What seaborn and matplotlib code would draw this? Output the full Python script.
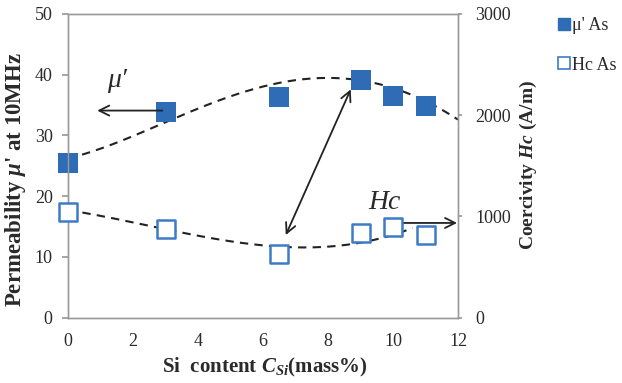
import numpy as np
import pandas as pd
import matplotlib
matplotlib.use("Agg")
import matplotlib.pyplot as plt
import seaborn as sns
from matplotlib.lines import Line2D

# ---- data ----
si_content = [0, 3, 6.5, 9, 10, 11]
mu_values = [25.5, 33.8, 36.3, 39.1, 36.5, 34.9]
hc_values = [1047, 876, 629, 834, 899, 817]

# dashed trend curves
mu_trend_x = [0, 3, 6.3, 8.15, 10, 11, 12]
mu_trend_y = [26.2, 32.3, 38.0, 40.0, 37.8, 35.3, 32.8]
hc_trend_x = [0, 3, 4.9, 6.7, 8.15, 9.2, 10.6]
hc_trend_y = [1062, 873, 768, 684, 708, 762, 882]

x_ticks = [0, 2, 4, 6, 8, 10, 12]
left_ticks = [0, 10, 20, 30, 40, 50]
right_ticks = [0, 1000, 2000, 3000]

sns.set_theme(style="white")
plt.rcParams['font.family'] = ['Liberation Serif', 'DejaVu Serif']
plt.rcParams['mathtext.fontset'] = 'custom'
plt.rcParams['mathtext.rm'] = 'Liberation Serif'
plt.rcParams['mathtext.it'] = 'Liberation Serif:italic'
plt.rcParams['mathtext.bf'] = 'Liberation Serif:bold'
plt.rcParams['mathtext.bfit'] = 'Liberation Serif:italic:bold'

BLUE = '#2E6DB6'
EDGE = '#3D7BC6'
GRAY = '#9A9A9A'
TXT = '#2A2A2A'

df = pd.DataFrame({'x': si_content, 'mu': mu_values, 'hc': hc_values})

# smooth (polynomial trendline) through the read trend points
mu_coef = np.polyfit(mu_trend_x, mu_trend_y, 4)
hc_coef = np.polyfit(hc_trend_x, hc_trend_y, 3)
xs_mu = np.linspace(mu_trend_x[0], mu_trend_x[-1], 200)
xs_hc = np.linspace(hc_trend_x[0], hc_trend_x[-1], 200)
trend_mu = pd.DataFrame({'x': xs_mu, 'y': np.polyval(mu_coef, xs_mu)})
trend_hc = pd.DataFrame({'x': xs_hc, 'y': np.polyval(hc_coef, xs_hc)})

fig = plt.figure(figsize=(6.22, 3.83), dpi=100)
ax = fig.add_axes([68/622, 1-317.7/383, (458-68)/622, (317.7-14)/383])
ax2 = ax.twinx()

sns.lineplot(data=trend_mu, x='x', y='y', ax=ax, color='#222222', lw=1.5,
             linestyle=(0, (4, 3)), zorder=2)
sns.scatterplot(data=df, x='x', y='mu', ax=ax, marker='s', s=200,
                color=BLUE, edgecolor=BLUE, linewidth=0, zorder=3, clip_on=False)

sns.lineplot(data=trend_hc, x='x', y='y', ax=ax2, color='#222222', lw=1.5,
             linestyle=(0, (4, 3)), zorder=2)
sns.scatterplot(data=df, x='x', y='hc', ax=ax2, marker='s', s=170,
                facecolor='white', edgecolor=EDGE, linewidth=1.8, zorder=3,
                clip_on=False)

ax.set_xlim(0, 12)
ax.set_ylim(0, 50)
ax2.set_ylim(0, 3000)
ax.set_xticks(x_ticks)
ax.set_yticks(left_ticks)
ax2.set_yticks(right_ticks)

for a in (ax, ax2):
    for s in a.spines.values():
        s.set_color(GRAY)
        s.set_linewidth(1.0)
ax.tick_params(axis='x', direction='in', length=4, color=GRAY, pad=11,
               labelsize=13, labelcolor=TXT)
ax.tick_params(axis='y', direction='out', length=4, color=GRAY, pad=7,
               labelsize=13, labelcolor=TXT, left=True)
ax2.tick_params(axis='y', direction='out', length=3, color=GRAY, pad=9.5,
                labelsize=13, labelcolor=TXT, right=True)

ax.set_xlabel(r"Si  content $\mathbfit{C}_{\mathbfit{Si}}$(mass%)",
              fontsize=15, fontweight='bold', color=TXT)
ax.xaxis.set_label_coords((265 - 68) / 390, -(356 - 317.7) / 303.7)
ax.set_ylabel(r"Permeability $\mathbfit{\mu}$' at 10MHz",
              fontsize=16.5, fontweight='bold', color=TXT)
ax.yaxis.set_label_coords(-(68 - 28) / 390, 1 - (180 - 14) / 303.7)
ax2.set_ylabel(r"Coercivity $\mathbfit{Hc}$ (A/m)",
               fontsize=14, fontweight='bold', color=TXT)
ax2.yaxis.set_label_coords(1 + (518 - 458) / 390, 1 - (165 - 14) / 303.7)

# annotations
arrow_kw = dict(color='#222222', lw=1.3, shrinkA=0, shrinkB=0,
                mutation_scale=18)
ax.annotate('', xy=(0.9, 34.1), xytext=(2.9, 34.1),
            arrowprops=dict(arrowstyle='->', **arrow_kw))
ax.annotate('', xy=(8.7, 37.6), xytext=(6.7, 13.6),
            arrowprops=dict(arrowstyle='<->', **arrow_kw))
ax.annotate('', xy=(11.97, 15.6), xytext=(10.2, 15.6),
            arrowprops=dict(arrowstyle='->', **arrow_kw), annotation_clip=False)
ax.text(1.5, 39.1, "μ′", fontsize=20, style='italic', color=TXT,
        ha='center', va='center')
ax.text(9.75, 19.0, "Hc", fontsize=20, style='italic', color=TXT,
        ha='center', va='center')

handles = [Line2D([], [], marker='s', ls='none', markersize=8,
                  markerfacecolor=BLUE, markeredgecolor=BLUE),
           Line2D([], [], marker='s', ls='none', markersize=8,
                  markerfacecolor='white', markeredgecolor=EDGE, markeredgewidth=1.2)]
fig.legend(handles, ["μ' As", "Hc As"], loc='upper left',
           bbox_to_anchor=(542/622, 1-1/383), frameon=False, fontsize=13,
           handlelength=0.6, handletextpad=0.15, labelspacing=1.25,
           labelcolor=TXT)

fig.savefig('out.png', dpi=100)
